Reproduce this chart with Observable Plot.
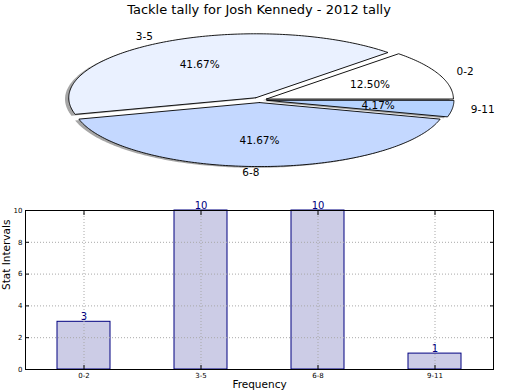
<!DOCTYPE html>
<html>
<head>
<meta charset="utf-8">
<script src="https://cdn.jsdelivr.net/npm/d3@7"></script>
<script src="https://cdn.jsdelivr.net/npm/@observablehq/plot@0.6"></script>
<style>
  html, body { margin: 0; padding: 0; background: white; }
  #wrap { position: relative; width: 520px; height: 390px; overflow: hidden; font-family: "DejaVu Sans", sans-serif; }
  #title { position: absolute; top: 2px; left: 0; width: 518px; text-align: center; font-size: 13px; color: black; }
  #pie { position: absolute; top: 0; left: 0; }
  #bars { position: absolute; top: 195px; left: 0; }
</style>
</head>
<body>
<div id="wrap">
  <div id="pie"></div>
  <div id="title">Tackle tally for Josh Kennedy - 2012 tally</div>
  <div id="bars"></div>
</div>
<script>
// ---- data ----
const titleText = "Tackle tally for Josh Kennedy - 2012 tally";
const categories = ["0-2", "3-5", "6-8", "9-11"];
const counts = [3, 10, 10, 1];
const sliceColors = ["#ffffff", "#eaf1ff", "#c4d8ff", "#b6d3ff"];
const explode = [0.04, 0.04, 0.04, 0.04];
const yTicks = [0, 2, 4, 6, 8, 10];
const xLabel = "Frequency";
const yLabel = "Stat Intervals";

document.getElementById("title").textContent = titleText;

// ---- pie geometry (matplotlib-style, counterclockwise from 0°) ----
const total = d3.sum(counts);
let cum = 0;
const slices = categories.map((c, i) => {
  const f = counts[i] / total;
  const a1 = 2 * Math.PI * cum;
  const a2 = 2 * Math.PI * (cum + f);
  cum += f;
  const mid = (a1 + a2) / 2;
  const ox = explode[i] * Math.cos(mid);
  const oy = explode[i] * Math.sin(mid);
  const pts = [{x: ox, y: oy}];
  const n = Math.max(2, Math.ceil((a2 - a1) / (Math.PI / 180)));
  for (let k = 0; k <= n; k++) {
    const a = a1 + (a2 - a1) * k / n;
    pts.push({x: ox + Math.cos(a), y: oy + Math.sin(a)});
  }
  pts.push({x: ox, y: oy});
  return {
    cat: c, color: sliceColors[i], pts, mid, ox, oy,
    pct: (f * 100).toFixed(2) + "%",
    lx: ox + 1.1 * Math.cos(mid), ly: oy + 1.1 * Math.sin(mid),
    px: ox + 0.6 * Math.cos(mid), py: oy + 0.6 * Math.sin(mid),
    right: Math.cos(mid) > 1e-9
  };
});

const shadowMarks = slices.map(s => Plot.line(s.pts.map(p => ({x: p.x - 0.02, y: p.y - 0.02})), {
  x: "x", y: "y", fill: "#4d4d4d", fillOpacity: 0.5, stroke: "none", curve: "linear"
}));
const sliceMarks = slices.map(s => Plot.line(s.pts, {
  x: "x", y: "y", fill: s.color, stroke: "black", strokeWidth: 0.9, curve: "linear", strokeLinejoin: "miter"
}));

const pie = Plot.plot({
  width: 520, height: 190,
  margin: 0,
  style: {fontFamily: "DejaVu Sans, sans-serif", fontSize: "10px", color: "black", background: "transparent"},
  x: {domain: [-1, 1], range: [259 - 187, 259 + 187], axis: null},
  y: {domain: [-1, 1], range: [99.5 + 64, 99.5 - 64], axis: null},
  marks: [
    ...shadowMarks,
    ...sliceMarks,
    Plot.text(slices.filter(s => s.right), {x: "lx", y: "ly", text: "cat", textAnchor: "start", fill: "black", fontSize: 10.5}),
    Plot.text(slices.filter(s => !s.right), {x: "lx", y: "ly", text: "cat", textAnchor: "end", fill: "black", fontSize: 10.5}),
    Plot.text(slices, {x: "px", y: "py", text: "pct", textAnchor: "middle", fill: "black", fontSize: 10.5})
  ]
});
document.getElementById("pie").appendChild(pie);

// ---- bar chart ----
const barData = categories.map((c, i) => ({cat: c, count: counts[i]}));
const gridStyle = {stroke: "#a8a8a8", strokeOpacity: 1, strokeDasharray: "1,2", strokeWidth: 1};

const bars = Plot.plot({
  width: 520, height: 195,
  marginTop: 15, marginBottom: 21, marginLeft: 25, marginRight: 27,
  style: {fontFamily: "DejaVu Sans, sans-serif", fontSize: "7px", color: "black", background: "transparent"},
  x: {domain: categories, paddingInner: 0.55, paddingOuter: 0.275},
  y: {domain: [0, 10], ticks: yTicks},
  marks: [
    Plot.barY(barData, {x: "cat", y: "count", fill: "#ccccE6", stroke: "#000080", strokeWidth: 1}),
    Plot.gridY(yTicks, gridStyle),
    Plot.gridX(categories, gridStyle),
    Plot.frame({stroke: "black", strokeWidth: 1}),
    Plot.text(barData, {x: "cat", y: "count", text: d => String(d.count), lineAnchor: "middle", dy: -5, fill: "#000080", fontSize: 10}),
    Plot.axisY(yTicks, {anchor: "left", tickSize: -4, tickPadding: 7, label: null, fontSize: 7}),
    Plot.axisY(yTicks, {anchor: "right", tickSize: -4, tickFormat: () => "", label: null}),
    Plot.axisX(categories, {anchor: "bottom", tickSize: -4, tickPadding: 8, label: null, fontSize: 7}),
    Plot.axisX(categories, {anchor: "top", tickSize: -4, tickFormat: () => "", label: null}),
    Plot.text([yLabel], {frameAnchor: "left", rotate: -90, dx: -19, fontSize: 10.5, fill: "black"}),
    Plot.text([xLabel], {frameAnchor: "bottom", dy: 15, lineAnchor: "middle", fontSize: 10.5, fill: "black"})
  ]
});
document.getElementById("bars").appendChild(bars);
</script>
</body>
</html>
